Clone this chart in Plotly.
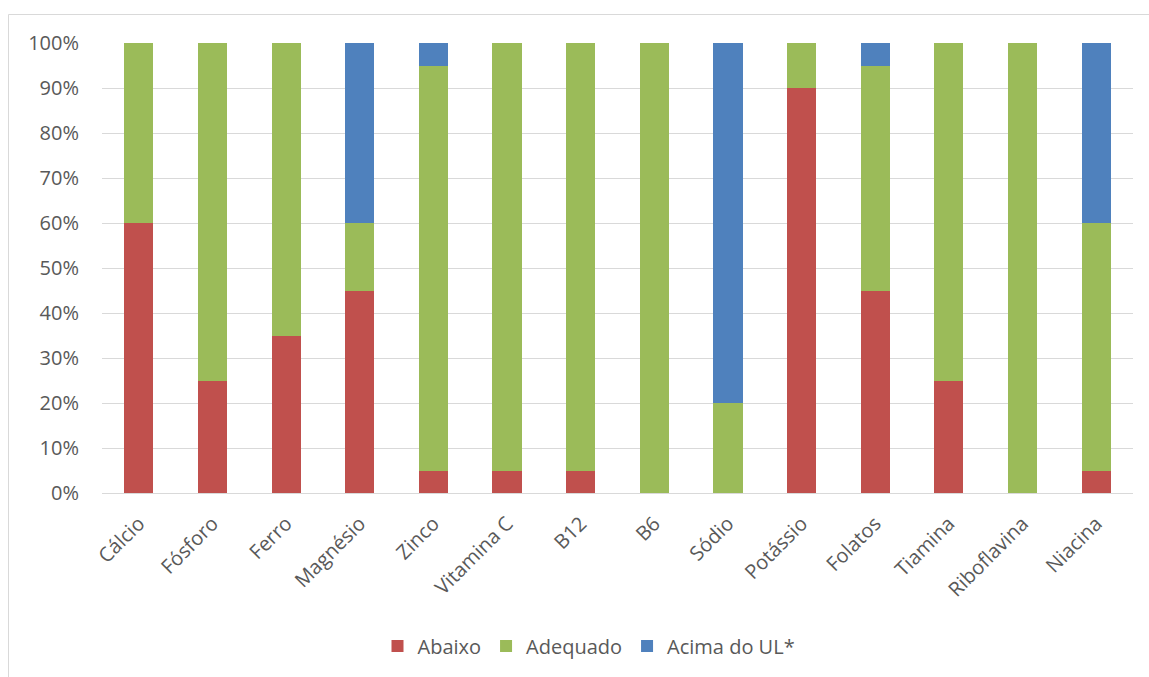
import plotly.graph_objects as go

categories = ["Cálcio", "Fósforo", "Ferro", "Magnésio", "Zinco", "Vitamina C", "B12",
              "B6", "Sódio", "Potássio", "Folatos", "Tiamina", "Riboflavina", "Niacina"]
abaixo = [60, 25, 35, 45, 5, 5, 5, 0, 0, 90, 45, 25, 0, 5]
adequado = [40, 75, 65, 15, 90, 95, 95, 100, 20, 10, 50, 75, 100, 55]
acima = [0, 0, 0, 40, 5, 0, 0, 0, 80, 0, 5, 0, 0, 40]

series = [("Abaixo", abaixo, "#C0504D"),
          ("Adequado", adequado, "#9BBB59"),
          ("Acima do UL*", acima, "#4F81BD")]

font_family = "Open Sans"

fig = go.Figure()
for name, vals, color in series:
    fig.add_trace(go.Bar(x=categories, y=vals, name=name, marker_color=color,
                         marker_line_width=0))

W, H = 1149, 677
L, R, T, B = 102, 16, 43, 184
pw, ph = W - L - R, H - T - B

def px_to_paper_x(px):
    return (px - L) / pw

def px_to_paper_y(py):
    return (H - B - py) / ph

fig.update_layout(
    barmode="stack",
    bargap=0.605,
    width=W, height=H,
    margin=dict(l=L, r=R, t=T, b=B),
    paper_bgcolor="white",
    plot_bgcolor="white",
    font=dict(family=font_family, size=20, color="#595959"),
    yaxis=dict(range=[0, 100], dtick=10, ticksuffix="%", showgrid=True,
               gridcolor="#D9D9D9", gridwidth=1, zeroline=False, showline=False,
               ticks="", ticklabelstandoff=22, fixedrange=True),
    xaxis=dict(tickangle=-45, showgrid=False, showline=True, linecolor="#D9D9D9",
               linewidth=1, ticks="", fixedrange=True, ticklabelstandoff=10),
    legend=dict(orientation="h", x=px_to_paper_x(589), xanchor="center",
                y=px_to_paper_y(646), yanchor="middle",
                font=dict(size=20, color="#595959"), traceorder="normal",
                itemwidth=30),
    shapes=[dict(type="rect", xref="paper", yref="paper",
                 x0=px_to_paper_x(8.5), x1=px_to_paper_x(1160),
                 y0=px_to_paper_y(690), y1=px_to_paper_y(14.5),
                 line=dict(color="#D9D9D9", width=1), fillcolor="rgba(0,0,0,0)",
                 layer="below")],
)

fig.write_html("out.html")
